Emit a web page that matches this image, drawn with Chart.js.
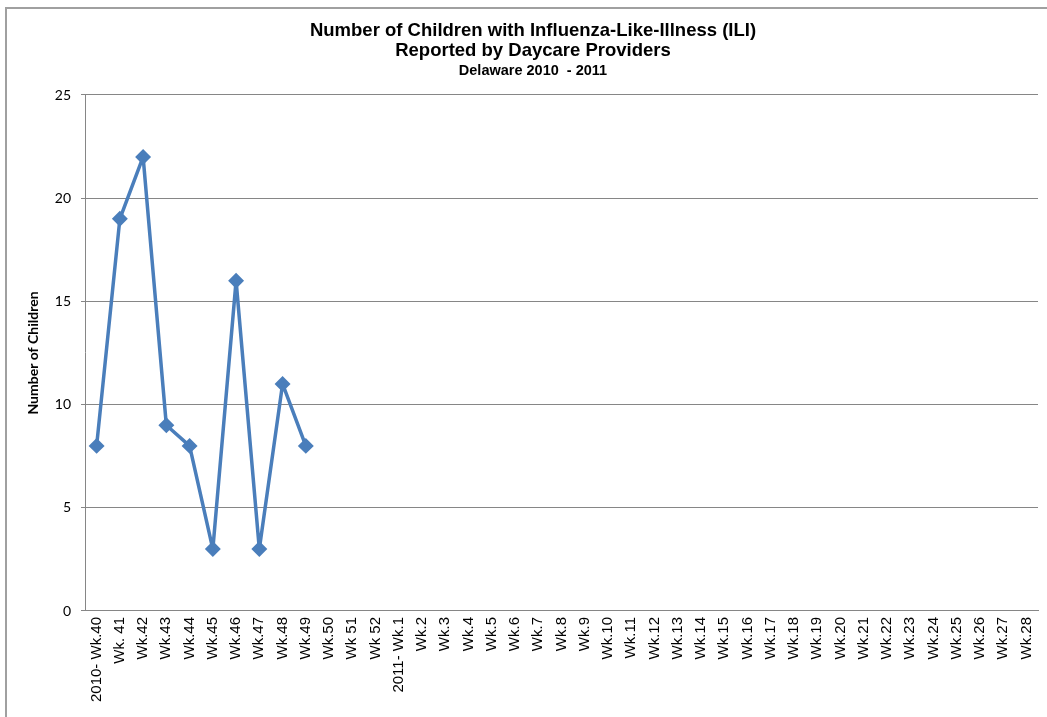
<!DOCTYPE html>
<html>
<head>
<meta charset="utf-8">
<script src="https://cdn.jsdelivr.net/npm/chart.js@4"></script>
<style>
  html, body { margin: 0; padding: 0; background: #fff; }
  #wrap { position: relative; width: 1047px; height: 717px; overflow: hidden; }
  #frame { position: absolute; left: 5px; top: 7px; width: 1100px; height: 800px; border: 2px solid #a0a0a0; box-sizing: border-box; pointer-events: none; }
  canvas { position: absolute; left: 0; top: 0; }
</style>
</head>
<body>
<div id="wrap">
  <canvas id="c" width="1047" height="717"></canvas>
  <div id="frame"></div>
</div>
<script>
const weeks2010 = ["2010- Wk.40", "Wk. 41", "Wk.42", "Wk.43", "Wk.44", "Wk.45", "Wk.46", "Wk.47", "Wk.48", "Wk.49", "Wk.50", "Wk 51", "Wk 52"];
const weeks2011 = ["2011- Wk.1", "Wk.2", "Wk.3", "Wk.4", "Wk.5", "Wk.6", "Wk.7", "Wk.8", "Wk.9", "Wk.10", "Wk.11", "Wk.12", "Wk.13", "Wk.14", "Wk.15", "Wk.16", "Wk.17", "Wk.18", "Wk.19", "Wk.20", "Wk.21", "Wk.22", "Wk.23", "Wk.24", "Wk.25", "Wk.26", "Wk.27", "Wk.28"];
const categories = weeks2010.concat(weeks2011);
const childrenWithILI = [8, 19, 22, 9, 8, 3, 16, 3, 11, 8];
const yTicks = [0, 5, 10, 15, 20, 25];

const titleLines = ["Number of Children with Influenza-Like-Illness (ILI)", "Reported by Daycare Providers"];
const subtitleText = "Delaware 2010  - 2011";
const yAxisTitle = "Number of Children";

const data = categories.map((c, i) => i < childrenWithILI.length ? childrenWithILI[i] : null);

// shift the centred title/subtitle a little to the right (chart frame extends past the picture)
const shiftTitles = {
  id: 'shiftTitles',
  afterLayout(chart) {
    chart.boxes.forEach(b => {
      if (b.position === 'top' && b.fullSize) { b.left += 13; b.right += 13; }
    });
  }
};

new Chart(document.getElementById('c'), {
  type: 'line',
  data: {
    labels: categories,
    datasets: [{
      data: data,
      borderColor: '#4A7EBB',
      backgroundColor: '#4A7EBB',
      borderWidth: 3.5,
      borderJoinStyle: 'round',
      pointStyle: 'rectRot',
      pointRadius: 5.5,
      pointHoverRadius: 5.5,
      tension: 0,
      spanGaps: false
    }]
  },
  plugins: [shiftTitles],
  options: {
    responsive: false,
    animation: false,
    layout: { padding: { left: 0, right: 7, top: 0, bottom: 0 } },
    plugins: {
      legend: { display: false },
      tooltip: { enabled: false },
      title: {
        display: true,
        text: titleLines,
        color: '#000',
        font: { family: 'Liberation Sans, Arial, sans-serif', size: 18.5, weight: 'bold', lineHeight: 1.081 },
        padding: { top: 21, bottom: 0 }
      },
      subtitle: {
        display: true,
        text: subtitleText,
        color: '#000',
        font: { family: 'Liberation Sans, Arial, sans-serif', size: 14.5, weight: 'bold', lineHeight: 1.2 },
        padding: { top: 1.3, bottom: 15.3 }
      }
    },
    scales: {
      x: {
        offset: true,
        grid: { display: false, drawTicks: false },
        border: { display: true, color: '#868686', width: 1 },
        ticks: {
          autoSkip: false,
          minRotation: 90,
          maxRotation: 90,
          padding: 6,
          color: '#000',
          font: { family: 'Liberation Sans, Arial, sans-serif', size: 15 }
        },
        afterFit: (s) => { s.height = 106; s.paddingRight = 0; s.paddingLeft = 0; }
      },
      y: {
        min: 0,
        max: 25,
        afterBuildTicks: (s) => { s.ticks = yTicks.map(v => ({ value: v })); },
        grid: { color: '#868686', lineWidth: 1, drawTicks: true, tickLength: 4 },
        border: { display: true, color: '#868686', width: 1 },
        ticks: {
          padding: 10,
          color: '#000',
          font: { family: 'Lato, sans-serif', size: 14 }
        },
        title: {
          display: true,
          text: yAxisTitle,
          color: '#000',
          font: { family: 'Lato, sans-serif', size: 14, weight: 'bold' },
          padding: { top: 25, bottom: 0 }
        },
        afterFit: (s) => { s.width = 85; }
      }
    }
  }
});
</script>
</body>
</html>
